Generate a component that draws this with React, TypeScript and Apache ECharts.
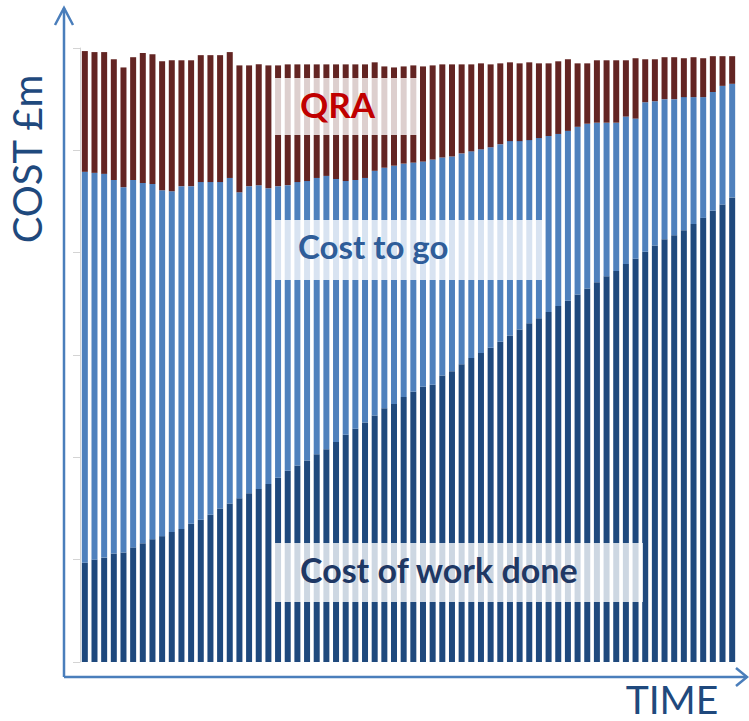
import { useEffect, useRef } from "react";
import * as echarts from "echarts";

// Cumulative project cost per reporting period (£m), stacked bottom to top
const workDone = [97,100,102,106,107,112,116,120,123,127,130,135,139,144,150,155,160,165,169,174,180,187,192,197,203,208,215,222,228,234,241,248,252,259,264,269,271,280,284,291,297,302,307,313,319,325,331,336,342,348,353,359,365,371,377,382,389,394,401,407,413,417,422,428,434,441,447,454];
const costToGo = [382,378,375,365,357,359,352,347,338,333,335,330,330,325,319,318,299,300,297,289,285,279,277,273,270,267,257,248,243,239,239,235,233,228,224,220,220,213,210,206,202,199,196,193,190,184,179,176,172,168,166,164,161,156,150,145,144,137,146,141,137,133,130,124,118,116,116,111];
const qra = [118,118,119,118,117,120,127,127,126,128,123,123,124,124,124,123,124,118,118,120,118,118,115,114,111,109,112,114,113,111,106,99,96,95,95,93,92,91,90,87,85,84,81,79,77,76,76,73,71,71,70,62,59,61,61,61,55,59,42,41,41,41,38,39,38,35,29,27];
const periods = workDone.map((_, i) => `P${i + 1}`);

const AXIS_BLUE = "#4A7EBB";
const TITLE_BLUE = "#1F497D";
const FONT = "Lato, 'Open Sans', sans-serif";

export default function App() {
  const ref = useRef<HTMLDivElement>(null);

  useEffect(() => {
    if (!ref.current) return;
    const chart = echarts.init(ref.current, undefined, { renderer: "svg" });

    const labelBox = (x: number, y: number, w: number, h: number) => ({
      type: "rect",
      z: 100,
      shape: { x, y, width: w, height: h },
      style: { fill: "rgba(255,255,255,0.78)" },
    });
    const labelText = (x: number, y: number, text: string, size: number, color: string) => ({
      type: "text",
      z: 101,
      x,
      y,
      style: {
        text,
        fill: color,
        font: `bold ${size}px ${FONT}`,
        textAlign: "left",
        textVerticalAlign: "middle",
      },
    });

    chart.setOption({
      animation: false,
      backgroundColor: "#ffffff",
      grid: { left: 80, top: 48, width: 657, height: 614, containLabel: false },
      xAxis: {
        type: "category",
        data: periods,
        boundaryGap: true,
        axisLine: { show: false },
        axisTick: { show: false },
        axisLabel: { show: false },
        splitLine: { show: false },
      },
      yAxis: {
        type: "value",
        min: 0,
        max: 600,
        interval: 100,
        axisLine: { show: true, lineStyle: { color: "#d4d4d4", width: 1 } },
        axisTick: { show: true, length: 7, lineStyle: { color: "#d4d4d4", width: 1 } },
        axisLabel: { show: false },
        splitLine: { show: false },
      },
      series: [
        {
          name: "Cost of work done",
          type: "bar",
          stack: "cost",
          barWidth: 6,
          data: workDone,
          itemStyle: { color: "#1F497D" },
        },
        {
          name: "Cost to go",
          type: "bar",
          stack: "cost",
          barWidth: 6,
          data: costToGo,
          itemStyle: { color: "#4F81BD" },
        },
        {
          name: "QRA",
          type: "bar",
          stack: "cost",
          barWidth: 6,
          data: qra,
          itemStyle: { color: "#632523" },
        },
      ],
      graphic: [
        // Arrowed axes
        {
          type: "line",
          z: 90,
          shape: { x1: 64, y1: 8, x2: 64, y2: 677 },
          style: { stroke: AXIS_BLUE, lineWidth: 2.5 },
        },
        {
          type: "polyline",
          z: 90,
          shape: { points: [[55, 25], [64, 8], [73, 25]] },
          style: { stroke: AXIS_BLUE, lineWidth: 2.5, fill: "none" },
        },
        {
          type: "line",
          z: 90,
          shape: { x1: 64, y1: 677, x2: 747, y2: 677 },
          style: { stroke: AXIS_BLUE, lineWidth: 2.5 },
        },
        {
          type: "polyline",
          z: 90,
          shape: { points: [[736, 668], [747, 677], [736, 686]] },
          style: { stroke: AXIS_BLUE, lineWidth: 2.5, fill: "none" },
        },
        // Axis titles
        {
          type: "text",
          z: 90,
          x: 27,
          y: 159,
          rotation: Math.PI / 2,
          style: {
            text: "COST £m",
            fill: TITLE_BLUE,
            font: `40px ${FONT}`,
            lineHeight: 40,
            textAlign: "center",
            textVerticalAlign: "middle",
          },
        },
        {
          type: "text",
          z: 90,
          x: 672,
          y: 699,
          style: {
            text: "TIME",
            fill: TITLE_BLUE,
            font: `39px ${FONT}`,
            lineHeight: 38,
            textAlign: "center",
            textVerticalAlign: "middle",
          },
        },
        // Series labels on translucent panels
        labelBox(273, 78, 146, 57),
        labelText(300, 104, "QRA", 35, "#C00000"),
        labelBox(273, 220, 269, 60),
        labelText(298, 246, "Cost to go", 33, "#2F5D99"),
        labelBox(273, 543, 370, 59),
        labelText(300, 569, "Cost of work done", 34, "#1F3864"),
      ],
    });

    return () => chart.dispose();
  }, []);

  return (
    <div
      ref={ref}
      style={{ position: "fixed", left: 0, top: 0, width: 749, height: 721 }}
    />
  );
}
